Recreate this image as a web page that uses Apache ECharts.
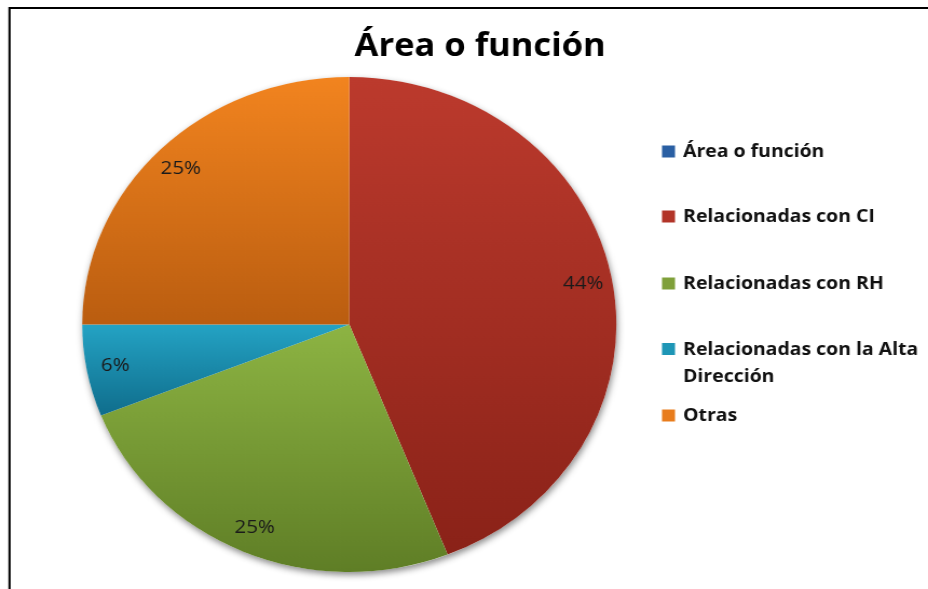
<!DOCTYPE html>
<html>
<head>
<meta charset="utf-8">
<script src="https://cdn.jsdelivr.net/npm/echarts@6/dist/echarts.min.js"></script>
<style>
  html, body { margin: 0; padding: 0; background: #fff; overflow: hidden; }
  #wrap { width: 928px; height: 589px; overflow: hidden; }
  /* the reference picture is stretched horizontally (elliptical pie, wide text) */
  #chart { width: 860px; height: 589px; transform: scaleX(1.0791); transform-origin: 0 0; }
</style>
</head>
<body>
<div id="wrap"><div id="chart"></div></div>
<script>
// ---- Data ----
const titleText = 'Área o función';
const categories = ['Área o función', 'Relacionadas con CI', 'Relacionadas con RH', 'Relacionadas con la Alta Dirección', 'Otras'];
const values = [0, 44, 25, 6, 25];
const legendLabels = ['Área o función', 'Relacionadas con CI', 'Relacionadas con RH', 'Relacionadas con la Alta\nDirección', 'Otras'];

// ---- Styles ----
const topColors    = ['#2F66AE', '#BC3A2D', '#8DB443', '#24A3C4', '#F2841F'];
const bottomColors = ['#1F4A80', '#8A2218', '#5F7E26', '#0F6D8C', '#BA5D10'];
const legendColors = ['#2A5FA3', '#B23428', '#7FA03A', '#1E96B6', '#E87C1C'];
const legendCenters = [150, 215, 282, 348, 414];

const CX = 323.7, CY = 324.5, R = 247.5;

function grad(i) {
  return new echarts.graphic.LinearGradient(0, 0, 0, 1, [
    { offset: 0, color: topColors[i] },
    { offset: 1, color: bottomColors[i] }
  ]);
}

const mainData = categories.map((c, i) => ({
  name: c, value: values[i],
  itemStyle: { color: grad(i) }
}));

const labelData = categories.map((c, i) => ({
  name: c, value: values[i],
  label: { show: values[i] > 0 }
}));

const legends = categories.map((c, i) => {
  const multi = legendLabels[i].indexOf('\n') >= 0;
  const lg = {
    data: [{ name: c, itemStyle: { color: legendColors[i] } }],
    left: 613.5,
    top: legendCenters[i] - 6 - 6,
    padding: 0,
    orient: 'vertical',
    itemWidth: 12,
    itemHeight: 12,
    itemGap: 0,
    selectedMode: false,
    icon: 'rect',
    formatter: () => legendLabels[i],
    textStyle: {
      fontFamily: 'Open Sans',
      fontWeight: 'bold',
      fontSize: 18,
      color: '#111',
      lineHeight: 27,
      padding: [0, 0, 0, 2.5]
    }
  };
  if (multi) {
    lg.itemHeight = 40;
    lg.icon = 'path://M0,0h12v12h-12z M0,39.9h0.02v0.1h-0.02z';
  }
  return lg;
});

const option = {
  backgroundColor: '#ffffff',
  animation: false,
  title: {
    text: titleText,
    left: 440,
    textAlign: 'center',
    top: 26,
    textStyle: {
      fontFamily: 'Open Sans',
      fontWeight: 'bold',
      fontSize: 32,
      color: '#000'
    }
  },
  legend: legends,
  graphic: [{
    type: 'polyline',
    shape: { points: [[8.8, 620], [8.8, 8], [900, 8]] },
    style: { stroke: '#000', lineWidth: 2, fill: null },
    silent: true
  }],
  series: [
    {
      type: 'pie',
      name: 'shadow',
      center: [CX, CY],
      radius: [0, R],
      silent: true,
      z: 1,
      label: { show: false },
      labelLine: { show: false },
      itemStyle: {
        color: '#fff',
        shadowBlur: 6,
        shadowColor: 'rgba(0,0,0,0.45)',
        shadowOffsetX: 1,
        shadowOffsetY: 3
      },
      data: [{ value: 1, name: '_' }]
    },
    {
      type: 'pie',
      name: 'Área o función',
      center: [CX, CY],
      radius: [0, R],
      startAngle: 90,
      clockwise: true,
      z: 2,
      avoidLabelOverlap: false,
      stillShowZeroSum: false,
      label: { show: false },
      labelLine: { show: false },
      emphasis: { disabled: true },
      data: mainData
    },
    {
      type: 'pie',
      name: 'labels',
      center: [CX, CY],
      radius: [R * 0.76, R],
      startAngle: 90,
      clockwise: true,
      silent: true,
      z: 3,
      avoidLabelOverlap: false,
      itemStyle: { color: 'rgba(0,0,0,0)' },
      labelLine: { show: false },
      label: {
        position: 'inside',
        formatter: '{d}%',
        fontFamily: 'Open Sans',
        fontSize: 19,
        color: '#1a1a1a'
      },
      emphasis: { disabled: true },
      data: labelData
    }
  ]
};

const chart = echarts.init(document.getElementById('chart'), null, { renderer: 'canvas' });
chart.setOption(option);
</script>
</body>
</html>
